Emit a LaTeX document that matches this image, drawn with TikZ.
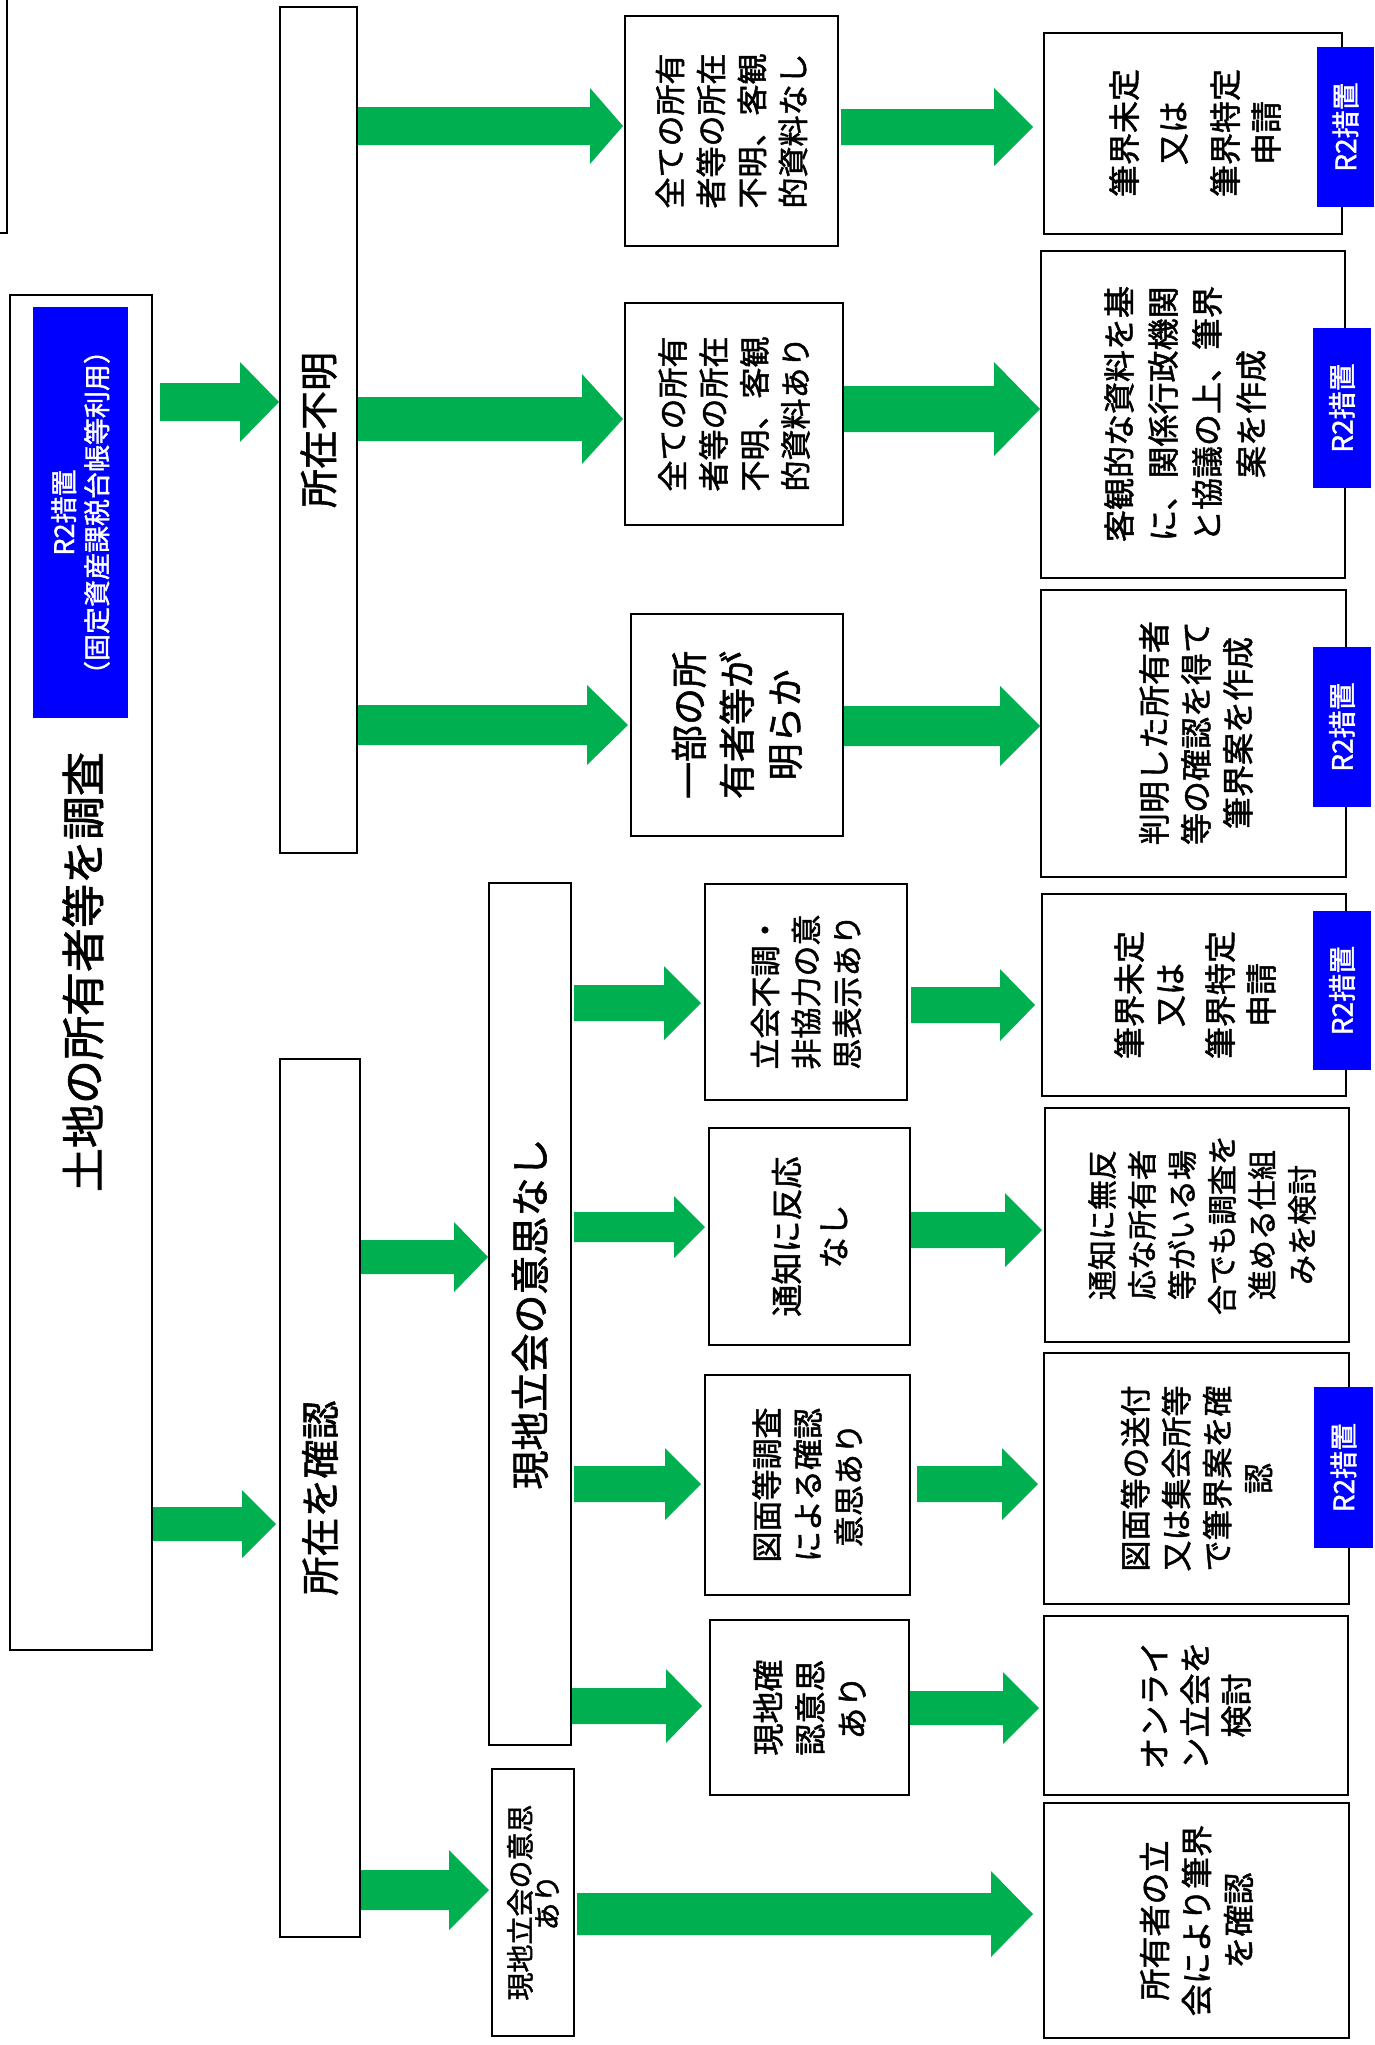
\documentclass[tikz,border=0pt]{standalone}
\usepackage{fontspec}
\setmainfont{Noto Sans CJK JP}[FakeBold=1.5]
\usetikzlibrary{calc,fit}
\definecolor{agreen}{RGB}{0,176,80}
\definecolor{lblue}{RGB}{0,0,255}
\tikzset{
 box/.style={draw=black, line width=2pt, fill=white, inner sep=0pt},
 bluelab/.style={fill=lblue, draw=none, inner sep=0pt},
 vt/.style={rotate=90, align=center, inner sep=0pt, font=\fontsize{31}{41}\selectfont},
 wt/.style={rotate=90, align=center, inner sep=0pt, text=white, font=\fontsize{28}{33}\selectfont},
}
\newcommand\mkbox[6][box]{\node[#1, fit={(#3,#4) (#5,#6)}] (#2) {};}
% #1 from node, #2 to node, #3 y centre, #4 shaft half, #5 head half, #6 head length, #7 start gap, #8 tip gap
\newcommand\garrow[8]{%
 \fill[agreen] let \p1=(#1.east), \p2=(#2.west) in
  ({\x1+#7pt}, {-#3pt+#4pt}) -- ({\x2-#8pt-#6pt}, {-#3pt+#4pt}) -- ({\x2-#8pt-#6pt}, {-#3pt+#5pt}) --
  ({\x2-#8pt}, {-#3pt}) -- ({\x2-#8pt-#6pt}, {-#3pt-#5pt}) -- ({\x2-#8pt-#6pt}, {-#3pt-#4pt}) --
  ({\x1+#7pt}, {-#3pt-#4pt}) -- cycle;}
\begin{document}
\begin{tikzpicture}[x=1pt,y=-1pt]
\fill[white] (0,0) rectangle (1375,2045);
\useasboundingbox (0,0) rectangle (1375,2045);
\clip (0,0) rectangle (1375,2045);
\draw[line width=2pt] (-10,233) -- (7,233) -- (7,-10);
% boxes
\mkbox{M}{10}{295}{152}{1650}
\mkbox{U}{280}{7}{357}{853}
\mkbox{K}{280}{1059}{360}{1937}
\mkbox{N}{489}{883}{571}{1745}
\mkbox{Y}{492}{1769}{574}{2036}
\mkbox{A}{625}{16}{838}{246}
\mkbox{B}{625}{303}{843}{525}
\mkbox{C}{631}{614}{843}{836}
\mkbox{D}{705}{884}{907}{1100}
\mkbox{E}{709}{1128}{910}{1345}
\mkbox{F}{705}{1375}{910}{1595}
\mkbox{G}{710}{1620}{909}{1795}
\mkbox{A2}{1044}{33}{1342}{234}
\mkbox{B2}{1041}{251}{1345}{578}
\mkbox{C2}{1041}{590}{1346}{877}
\mkbox{D2}{1042}{894}{1346}{1096}
\mkbox{E2}{1045}{1108}{1349}{1342}
\mkbox{F2}{1044}{1353}{1349}{1604}
\mkbox{G2}{1044}{1616}{1348}{1795}
\mkbox{H}{1044}{1803}{1349}{2038}
% blue labels
\mkbox[bluelab]{LM}{33}{307}{128}{718}
\mkbox[bluelab]{LA}{1317}{47}{1374}{207}
\mkbox[bluelab]{LB}{1313}{328}{1371}{488}
\mkbox[bluelab]{LC}{1313}{647}{1371}{807}
\mkbox[bluelab]{LD}{1313}{911}{1371}{1070}
\mkbox[bluelab]{LF}{1314}{1387}{1373}{1548}
% texts
\node[vt, font=\fontsize{44}{50}\selectfont] (tM) at (83,972) {土地の所有者等を調査};
\node[wt, font=\fontsize{27}{33}\selectfont] (tLM) at (LM.center) {R2措置\\（固定資産課税台帳等利用）};
\node[vt, font=\fontsize{39}{45}\selectfont] (tU) at (U.center) {所在不明};
\node[vt, font=\fontsize{39}{45}\selectfont] (tK) at (K.center) {所在を確認};
\node[vt, font=\fontsize{39}{45}\selectfont] (tN) at (N.center) {現地立会の意思なし};
\node[vt, font=\fontsize{28}{27}\selectfont] (tY) at (Y.center) {現地立会の意思\\あり};
\node[vt] (tA) at (A.center) {全ての所有\\者等の所在\\不明、客観\\的資料なし};
\node[vt] (tB) at (B.center) {全ての所有\\者等の所在\\不明、客観\\的資料あり};
\node[vt, font=\fontsize{37}{48}\selectfont] (tC) at (C.center) {一部の所\\有者等が\\明らか};
\node[vt, font=\fontsize{32}{41}\selectfont] (tA2) at (1195,133) {筆界未定\\[8pt]又は\\[11pt]筆界特定\\申請};
\node[vt, font=\fontsize{32}{44}\selectfont] (tB2) at (1185,414) {客観的な資料を基\\に、関係行政機関\\と協議の上、筆界\\案を作成};
\node[vt, font=\fontsize{32}{42}\selectfont] (tC2) at (1196,733) {判明した所有者\\等の確認を得て\\筆界案を作成};
\node[vt] (tD) at (D.center) {立会不調・\\非協力の意\\思表示あり};
\node[vt, font=\fontsize{32}{47}\selectfont] (tE) at (E.center) {通知に反応\\なし};
\node[vt] (tF) at (F.center) {図面等調査\\による確認\\意思あり};
\node[vt, font=\fontsize{32}{42}\selectfont] (tG) at (G.center) {現地確\\認意思\\あり};
\node[vt, font=\fontsize{32}{41}\selectfont] (tD2) at (1195,995) {筆界未定\\又は\\[9pt]筆界特定\\申請};
\node[vt, font=\fontsize{30}{40}\selectfont] (tE2) at (1202,1225) {通知に無反\\応な所有者\\等がいる場\\合でも調査を\\進める仕組\\みを検討};
\node[vt] (tF2) at (F2.center) {図面等の送付\\又は集会所等\\で筆界案を確\\認};
\node[vt, font=\fontsize{32}{41}\selectfont] (tG2) at (G2.center) {オンライ\\ン立会を\\検討};
\node[vt, font=\fontsize{32}{42}\selectfont] (tH) at (H.center) {所有者の立\\会により筆界\\を確認};
\node[wt] (tLA) at (LA.center) {R2措置};
\node[wt] (tLB) at (LB.center) {R2措置};
\node[wt] (tLC) at (LC.center) {R2措置};
\node[wt] (tLD) at (LD.center) {R2措置};
\node[wt] (tLF) at (LF.center) {R2措置};
% arrows
\garrow{M}{U}{402}{19}{40}{39}{7}{0}
\garrow{M}{K}{1524}{17}{34}{34}{0}{3}
\garrow{U}{A}{126}{19}{38}{33}{0}{1}
\garrow{U}{B}{419}{22}{45}{41}{0}{1}
\garrow{U}{C}{725}{20}{40}{41}{0}{2}
\garrow{A}{A2}{127}{18}{39}{39}{2}{10}
\garrow{B}{B2}{409}{23}{47}{46}{0}{0}
\garrow{C}{C2}{726}{20}{40}{40}{0}{0}
\garrow{K}{N}{1257}{17}{35}{34}{0}{0}
\garrow{K}{Y}{1890}{20}{40}{40}{0}{2}
\garrow{N}{D}{1003}{18}{37}{37}{2}{3}
\garrow{N}{E}{1227}{15}{31}{31}{2}{3}
\garrow{N}{F}{1484}{18}{36}{36}{2}{3}
\garrow{N}{G}{1706}{18}{37}{36}{0}{7}
\garrow{D}{D2}{1005}{18}{36}{35}{3}{6}
\garrow{E}{E2}{1230}{18}{37}{37}{0}{2}
\garrow{F}{F2}{1484}{18}{36}{36}{6}{5}
\garrow{G}{G2}{1708}{17}{36}{36}{0}{4}
\garrow{Y}{H}{1914}{21}{43}{42}{2}{10}
\end{tikzpicture}
\end{document}
